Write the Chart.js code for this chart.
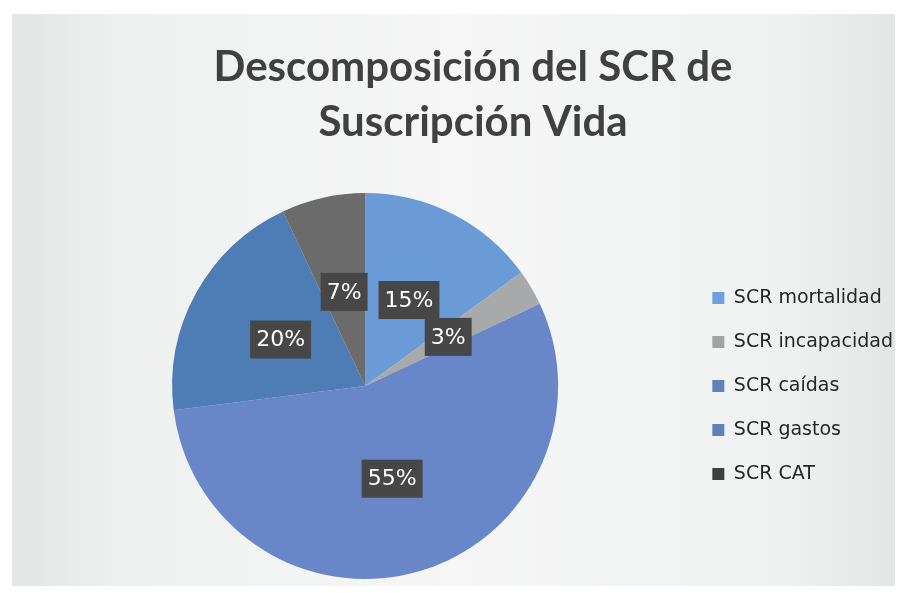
<!DOCTYPE html>
<html>
<head>
<meta charset="utf-8">
<script src="https://cdn.jsdelivr.net/npm/chart.js@4/dist/chart.umd.min.js"></script>
<style>
  html, body { margin: 0; padding: 0; background: #ffffff; }
  #wrap { width: 907px; height: 593px; }
</style>
</head>
<body>
<div id="wrap"><canvas id="c" width="907" height="593"></canvas></div>
<script>
const titleLines = ['Descomposición del SCR de', 'Suscripción Vida'];
const categories = ['SCR mortalidad', 'SCR incapacidad', 'SCR caídas', 'SCR gastos', 'SCR CAT'];
const shares = [15, 3, 55, 20, 7];
const sliceColors = ['#6a9bd6', '#a8a9ab', '#6987c8', '#4e7db5', '#6b6b6b'];
const legendColors = ['#6ca0dc', '#a3a3a3', '#6281b9', '#5f80b8', '#3f3f3f'];

const panelPlugin = {
  id: 'panel',
  beforeDraw(chart) {
    const ctx = chart.ctx;
    const w = chart.width, h = chart.height;
    ctx.save();
    ctx.fillStyle = '#ffffff';
    ctx.fillRect(0, 0, w, h);
    const g = ctx.createLinearGradient(12, 0, 895, 0);
    g.addColorStop(0, '#e3e5e5');
    g.addColorStop(0.12, '#eef0f0');
    g.addColorStop(0.5, '#f6f6f6');
    g.addColorStop(0.88, '#eff1f1');
    g.addColorStop(1, '#e4e6e6');
    ctx.fillStyle = g;
    ctx.fillRect(12, 14, 883, 572);
    ctx.restore();
  }
};

const labelPlugin = {
  id: 'sliceLabels',
  afterDatasetsDraw(chart) {
    const ctx = chart.ctx;
    const meta = chart.getDatasetMeta(0);
    const data = chart.data.datasets[0].data;
    const total = data.reduce((a, b) => a + b, 0);
    ctx.save();
    ctx.font = '22px "DejaVu Sans"';
    ctx.textAlign = 'center';
    ctx.textBaseline = 'middle';
    meta.data.forEach((arc, i) => {
      const p = arc.tooltipPosition();
      const txt = Math.round(data[i] / total * 100) + '%';
      const tw = ctx.measureText(txt).width;
      const bw = tw + 12, bh = 38;
      ctx.fillStyle = '#474747';
      ctx.fillRect(p.x - bw / 2, p.y - bh / 2, bw, bh);
      ctx.fillStyle = '#ffffff';
      ctx.fillText(txt, p.x, p.y + 1);
    });
    ctx.restore();
  }
};

new Chart(document.getElementById('c'), {
  type: 'pie',
  data: {
    labels: categories,
    datasets: [{
      data: shares,
      backgroundColor: sliceColors,
      borderWidth: 0
    }]
  },
  options: {
    responsive: false,
    animation: false,
    devicePixelRatio: 1,
    layout: { padding: { left: 43, right: 4, top: 14, bottom: 14 } },
    plugins: {
      tooltip: { enabled: false },
      title: {
        display: true,
        text: titleLines,
        color: '#404040',
        font: { family: 'Lato', size: 42, weight: 'bold', lineHeight: 1.31 },
        padding: { top: 26, bottom: 43 }
      },
      legend: {
        position: 'right',
        fullSize: false,
        labels: {
          color: '#262626',
          font: { family: 'DejaVu Sans', size: 19 },
          boxWidth: 12,
          boxHeight: 12,
          padding: 25,
          generateLabels(chart) {
            return categories.map((t, i) => ({
              text: t,
              fillStyle: legendColors[i],
              strokeStyle: legendColors[i],
              lineWidth: 0,
              hidden: false,
              index: i,
              fontColor: '#262626'
            }));
          }
        }
      }
    }
  },
  plugins: [panelPlugin, labelPlugin]
});
</script>
</body>
</html>
